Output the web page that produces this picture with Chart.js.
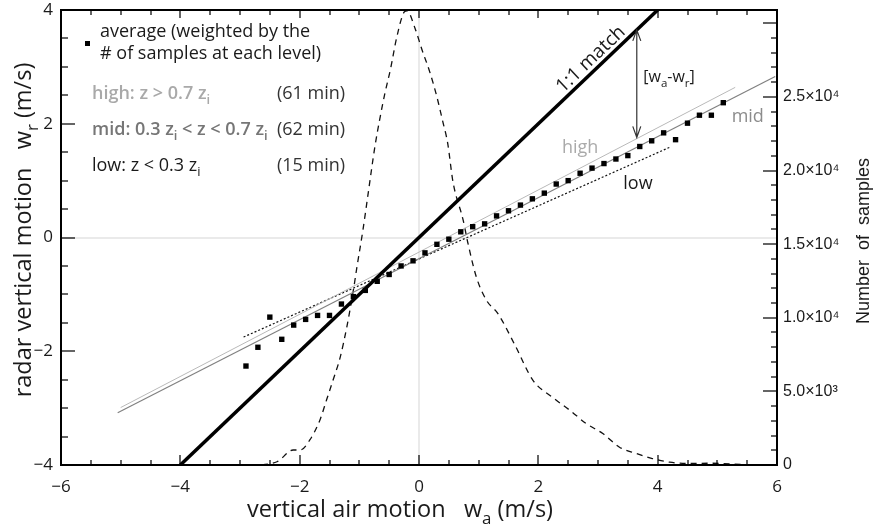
<!DOCTYPE html>
<html lang="en">
<head>
<meta charset="UTF-8" />
<title>Radar vs. air vertical motion</title>
<script src="https://cdn.jsdelivr.net/npm/chart.js"></script>
<style>
  html, body { margin: 0; padding: 0; background: #fff; }
  #wrap { position: relative; width: 873px; height: 527px; }
</style>
</head>
<body>
<div id="wrap"><canvas id="chart"></canvas></div>
<script>
// weighted average of radar velocity, one value per 0.2 m/s bin of air motion
const avgX = [-2.9, -2.7, -2.5, -2.3, -2.1, -1.9, -1.7, -1.5, -1.3, -1.1, -0.9, -0.7, -0.5, -0.3, -0.1,
              0.1, 0.3, 0.5, 0.7, 0.9, 1.1, 1.3, 1.5, 1.7, 1.9, 2.1, 2.3, 2.5, 2.7, 2.9,
              3.1, 3.3, 3.5, 3.7, 3.9, 4.1, 4.3, 4.5, 4.7, 4.9, 5.1];
const avgY = [-2.26, -1.93, -1.40, -1.79, -1.54, -1.44, -1.37, -1.37, -1.17, -1.04, -0.93, -0.77, -0.65, -0.50, -0.41,
              -0.27, -0.12, -0.03, 0.10, 0.19, 0.24, 0.38, 0.47, 0.57, 0.68, 0.78, 0.94, 1.00, 1.13, 1.22,
              1.30, 1.38, 1.44, 1.60, 1.70, 1.84, 1.72, 2.01, 2.15, 2.15, 2.37];

// linear fits for each height layer (end points)
const highX = [-5.0, 5.30],  highY = [-2.99, 2.64];
const midX  = [-5.05, 5.97], midY  = [-3.08, 2.83];
const lowX  = [-2.94, 4.21], lowY  = [-1.75, 1.59];
const matchXY = [-4, 4];

// number of samples per bin (right axis)
const histX = [-3.0, -2.78, -2.38, -2.11, -1.99, -1.83, -1.66, -1.55, -1.44, -1.32, -1.21, -1.10, -1.04, -0.94,
               -0.85, -0.74, -0.65, -0.57, -0.48, -0.37, -0.25, -0.20, -0.07, 0.05, 0.18, 0.30, 0.40, 0.48,
               0.57, 0.74, 0.82, 0.96, 1.13, 1.32, 1.61, 1.91, 2.24, 2.53, 2.80, 3.08, 3.36, 3.64, 3.91,
               4.20, 4.53, 4.90, 5.40];
const histN = [0, 0, 220, 1020, 1020, 1700, 3060, 4410, 5770, 7330, 9370, 11870, 13450, 15950,
               18500, 21600, 23650, 25270, 26840, 29100, 30750, 30850, 29700, 28200, 26700, 25000, 23300, 21870,
               19220, 16630, 15070, 12780, 11190, 10300, 8130, 5750, 4590, 3710, 2820, 2140, 1210, 780, 440,
               190, 100, 120, 40];

// [w_a - w_r] gap marker
const gapX = 3.65, gapY = [3.65, 1.76];

const xTickVals = [-6, -4, -2, 0, 2, 4, 6];
const yTickVals = [-4, -2, 0, 2, 4];
const countTickVals = [0, 5000, 10000, 15000, 20000, 25000];
const countTickText = ['0', '5.0×10³', '1.0×10⁴', '1.5×10⁴', '2.0×10⁴', '2.5×10⁴'];

const pts = (xs, ys) => xs.map((x, i) => ({ x, y: ys[i] }));
const minus = v => (v < 0 ? '\u2212' + Math.abs(v) : String(v));

// scales keep their label overflow out of the layout so the plot box stays put
const noPad = s => { s.paddingTop = 0; s.paddingBottom = 0; s.paddingLeft = 0; s.paddingRight = 0; };

function drawRich(ctx, parts, x, y, size, family, weight, align) {
  const font = s => `${weight} ${s}px "${family}"`;
  let w = 0;
  for (const p of parts) {
    ctx.font = font(p.sub ? size * 0.72 : size);
    w += ctx.measureText(p.t).width;
  }
  let cx = align === 'center' ? x - w / 2 : x;
  ctx.textAlign = 'left';
  ctx.textBaseline = 'alphabetic';
  for (const p of parts) {
    ctx.font = font(p.sub ? size * 0.72 : size);
    ctx.fillText(p.t, cx, y + (p.sub ? size * 0.3 : 0));
    cx += ctx.measureText(p.t).width;
  }
}

function drawTexts(chart) {
  const { ctx, chartArea: a, scales: { x, y } } = chart;
  ctx.save();
  const ink = '#1a1a1a';

  // double-headed arrow between the 1:1 line and the fits
  const ax = x.getPixelForValue(gapX);
  const ay0 = y.getPixelForValue(gapY[0]);
  const ay1 = y.getPixelForValue(gapY[1]);
  ctx.strokeStyle = '#333';
  ctx.lineWidth = 1.2;
  ctx.beginPath();
  ctx.moveTo(ax, ay0); ctx.lineTo(ax, ay1);
  ctx.moveTo(ax - 4, ay0 + 11); ctx.lineTo(ax, ay0); ctx.lineTo(ax + 4, ay0 + 11);
  ctx.moveTo(ax - 4, ay1 - 11); ctx.lineTo(ax, ay1); ctx.lineTo(ax + 4, ay1 - 11);
  ctx.stroke();

  // axis titles
  ctx.fillStyle = ink;
  drawRich(ctx, [{ t: 'vertical air motion   w' }, { t: 'a', sub: true }, { t: ' (m/s)' }],
           400, 517, 23.5, 'Open Sans', 400, 'center');
  ctx.save();
  ctx.translate(31, 230);
  ctx.rotate(-Math.PI / 2);
  drawRich(ctx, [{ t: 'radar vertical motion   w' }, { t: 'r', sub: true }, { t: ' (m/s)' }],
           0, 0, 23.5, 'Open Sans', 400, 'center');
  ctx.restore();
  ctx.save();
  ctx.translate(869, 241);
  ctx.rotate(-Math.PI / 2);
  drawRich(ctx, [{ t: 'Number  of  samples' }], 0, 0, 18, 'Liberation Sans', 400, 'center');
  ctx.restore();

  // legend block
  const L = a.left;
  ctx.fillStyle = '#000';
  ctx.fillRect(L + 24, 41, 5, 5);
  ctx.fillStyle = ink;
  drawRich(ctx, [{ t: 'average (weighted by the' }], L + 39, 37, 18, 'Open Sans', 400, 'left');
  drawRich(ctx, [{ t: '# of samples at each level)' }], L + 39, 59, 18, 'Open Sans', 400, 'left');
  ctx.fillStyle = '#a9a9a9';
  drawRich(ctx, [{ t: 'high: z > 0.7 z' }, { t: 'i', sub: true }], L + 31, 99, 18, 'Open Sans', 600, 'left');
  ctx.fillStyle = '#767676';
  drawRich(ctx, [{ t: 'mid: 0.3 z' }, { t: 'i', sub: true }, { t: ' < z < 0.7 z' }, { t: 'i', sub: true }],
           L + 31, 135, 18, 'Open Sans', 600, 'left');
  ctx.fillStyle = ink;
  drawRich(ctx, [{ t: 'low: z < 0.3 z' }, { t: 'i', sub: true }], L + 31, 171, 18, 'Open Sans', 400, 'left');
  ctx.fillStyle = '#333';
  drawRich(ctx, [{ t: '(61 min)' }], L + 216, 99, 18, 'Open Sans', 400, 'left');
  drawRich(ctx, [{ t: '(62 min)' }], L + 216, 135, 18, 'Open Sans', 400, 'left');
  drawRich(ctx, [{ t: '(15 min)' }], L + 216, 171, 18, 'Open Sans', 400, 'left');

  // line labels
  ctx.fillStyle = '#aaaaaa';
  drawRich(ctx, [{ t: 'high' }], x.getPixelForValue(2.70), y.getPixelForValue(1.49), 18, 'Open Sans', 400, 'center');
  ctx.fillStyle = '#8c8c8c';
  drawRich(ctx, [{ t: 'mid' }], x.getPixelForValue(5.51), y.getPixelForValue(2.03), 18, 'Open Sans', 400, 'center');
  ctx.fillStyle = ink;
  drawRich(ctx, [{ t: 'low' }], x.getPixelForValue(3.67), y.getPixelForValue(0.85), 18, 'Open Sans', 400, 'center');
  drawRich(ctx, [{ t: '[w' }, { t: 'a', sub: true }, { t: '-w' }, { t: 'r', sub: true }, { t: ']' }],
           x.getPixelForValue(4.19), y.getPixelForValue(2.73), 16, 'Open Sans', 400, 'center');

  // "1:1 match" along the thick line
  const p0x = x.getPixelForValue(matchXY[0]), p0y = y.getPixelForValue(matchXY[0]);
  const p1x = x.getPixelForValue(matchXY[1]), p1y = y.getPixelForValue(matchXY[1]);
  const ang = Math.atan2(p1y - p0y, p1x - p0x);
  ctx.save();
  ctx.translate(x.getPixelForValue(3.0), y.getPixelForValue(3.0));
  ctx.rotate(ang);
  drawRich(ctx, [{ t: '1:1 match' }], 0, -5, 19, 'Open Sans', 400, 'center');
  ctx.restore();

  ctx.restore();
}

// plot box and inward tick marks, painted last with a clean context state
function drawFrame(chart) {
  const { ctx, chartArea: a } = chart;
  const sx = chart.scales.x, sy = chart.scales.y, sc = chart.scales.y2;
  const r = chart.currentDevicePixelRatio || 1;
  ctx.save();
  ctx.setTransform(r, 0, 0, r, 0, 0);
  ctx.globalAlpha = 1;
  ctx.globalCompositeOperation = 'source-over';
  ctx.filter = 'none';
  ctx.shadowColor = 'rgba(0,0,0,0)';
  ctx.setLineDash([]);
  ctx.fillStyle = '#000';
  for (let v = -6; v <= 6; v += 0.5) {
    const px = Math.round(sx.getPixelForValue(v));
    const major = v % 2 === 0;
    ctx.fillRect(px - 0.6, a.bottom - (major ? 10 : 5), 1.2, major ? 10 : 5);
    ctx.fillRect(px - 0.6, a.top, 1.2, major ? 8 : 5);
  }
  for (let v = -4; v <= 4; v += 0.5) {
    const py = Math.round(sy.getPixelForValue(v));
    ctx.fillRect(a.left, py - 0.6, v % 2 === 0 ? 14 : 7, 1.2);
  }
  for (let v = 0; v <= 30000; v += 1000) {
    const py = Math.round(sc.getPixelForValue(v));
    const len = v % 5000 === 0 ? 14 : 6;
    ctx.fillRect(a.right - len, py - 0.6, len, 1.2);
  }
  ctx.fillRect(a.left - 1, a.top - 1, a.right - a.left + 2, 2);
  ctx.fillRect(a.left - 1, a.bottom - 1, a.right - a.left + 2, 2);
  ctx.fillRect(a.left - 1, a.top - 1, 2, a.bottom - a.top + 2);
  ctx.fillRect(a.right - 1, a.top - 1, 2, a.bottom - a.top + 2);
  ctx.restore();
}

const decor = {
  id: 'decor',
  beforeDatasetsDraw(chart) {
    const { ctx, chartArea: a, scales: { x, y } } = chart;
    ctx.save();
    ctx.fillStyle = '#d6d6d6';
    const x0 = Math.round(x.getPixelForValue(0));
    const y0 = Math.round(y.getPixelForValue(0));
    ctx.fillRect(x0 - 0.5, a.top, 1, a.bottom - a.top);
    ctx.fillRect(a.left, y0 - 0.5, a.right - a.left, 1);
    ctx.restore();
  },
  afterDraw(chart) {
    drawTexts(chart);
    drawFrame(chart);
  }
};

const tickFont = { family: 'Open Sans', size: 17 };

new Chart(document.getElementById('chart'), {
  type: 'scatter',
  data: {
    datasets: [
      { label: 'average', data: pts(avgX, avgY), showLine: false, pointStyle: 'rect',
        pointRadius: 3.8, backgroundColor: '#000', borderColor: '#000', borderWidth: 0 },
      { label: '1:1 match', data: pts(matchXY, matchXY), showLine: true, borderColor: '#000',
        borderWidth: 3.5, pointRadius: 0 },
      { label: 'high', data: pts(highX, highY), showLine: true, borderColor: '#b9b9b9',
        borderWidth: 1, pointRadius: 0 },
      { label: 'mid', data: pts(midX, midY), showLine: true, borderColor: '#808080',
        borderWidth: 1.2, pointRadius: 0 },
      { label: 'low', data: pts(lowX, lowY), showLine: true, borderColor: '#111',
        borderWidth: 1.2, borderDash: [2, 2], pointRadius: 0 },
      { label: 'samples', yAxisID: 'y2', data: pts(histX, histN), showLine: true, borderColor: '#111',
        borderWidth: 1.3, borderDash: [6, 5], cubicInterpolationMode: 'monotone', pointRadius: 0 }
    ]
  },
  options: {
    responsive: true,
    maintainAspectRatio: false,
    animation: false,
    layout: { padding: { top: 10, left: 0, right: 0, bottom: 0 } },
    plugins: { legend: { display: false }, tooltip: { enabled: false } },
    scales: {
      x: {
        type: 'linear', min: -6, max: 6, position: 'bottom',
        grid: { display: false, drawTicks: false }, border: { display: false },
        afterBuildTicks: s => { s.ticks = xTickVals.map(v => ({ value: v })); },
        ticks: { padding: 12, color: '#1a1a1a', font: tickFont, maxRotation: 0, autoSkip: false,
                 callback: v => minus(v) },
        afterFit: s => { s.height = 62; noPad(s); }
      },
      y: {
        type: 'linear', min: -4, max: 4, position: 'left',
        grid: { display: false, drawTicks: false }, border: { display: false },
        afterBuildTicks: s => { s.ticks = yTickVals.map(v => ({ value: v })); },
        ticks: { padding: 8, color: '#1a1a1a', font: tickFont, callback: v => minus(v) },
        afterFit: s => { s.width = 61; noPad(s); }
      },
      y2: {
        type: 'linear', min: 0, max: 30900, position: 'right',
        grid: { display: false, drawTicks: false }, border: { display: false },
        afterBuildTicks: s => { s.ticks = countTickVals.map(v => ({ value: v })); },
        ticks: { padding: 6, color: '#1a1a1a', font: { family: 'Liberation Sans', size: 16 },
                 callback: v => countTickText[countTickVals.indexOf(v)] },
        afterFit: s => { s.width = 96; noPad(s); }
      }
    }
  },
  plugins: [decor]
});
</script>
</body>
</html>
